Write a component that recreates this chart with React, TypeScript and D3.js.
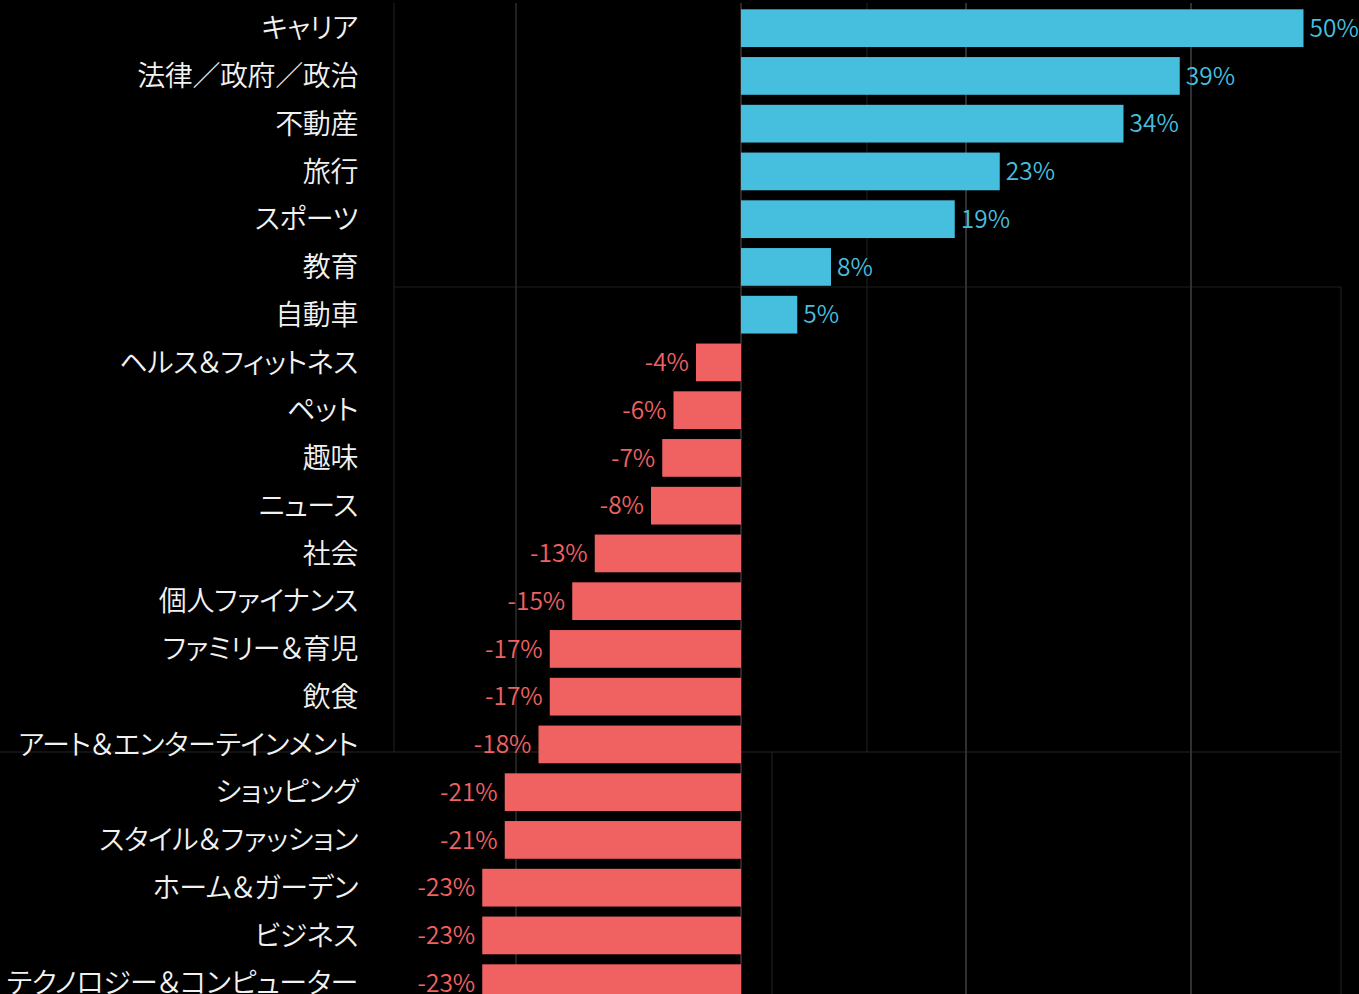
import React from 'react';
import * as d3 from 'd3';

const categories = [
  'キャリア',
  '法律／政府／政治',
  '不動産',
  '旅行',
  'スポーツ',
  '教育',
  '自動車',
  'ヘルス＆フィットネス',
  'ペット',
  '趣味',
  'ニュース',
  '社会',
  '個人ファイナンス',
  'ファミリー＆育児',
  '飲食',
  'アート＆エンターテインメント',
  'ショッピング',
  'スタイル＆ファッション',
  'ホーム＆ガーデン',
  'ビジネス',
  'テクノロジー＆コンピューター',
];

const changes = [50, 39, 34, 23, 19, 8, 5, -4, -6, -7, -8, -13, -15, -17, -17, -18, -21, -21, -23, -23, -23];

const gridTicks = [-20, 20, 40];

const WIDTH = 1359;
const HEIGHT = 994;
const BLUE = '#46bfdf';
const RED = '#f06262';
const FONT = "'Noto Sans CJK JP', 'Noto Sans', sans-serif";

export default function App() {
  const x = d3.scaleLinear().domain([-20, 40]).range([516, 1191]);

  const step = 47.75;
  const y = d3.scaleBand<string>()
    .domain(categories)
    .range([4.3, 4.3 + categories.length * step])
    .paddingInner(0.21)
    .paddingOuter(0.105);

  const x0 = x(0);
  const rows = categories.map((c, i) => ({ c, v: changes[i] }));

  return (
    <svg
      width={WIDTH}
      height={HEIGHT}
      style={{ position: 'absolute', left: 0, top: 0, background: '#000', display: 'block' }}
    >
      <rect width={WIDTH} height={HEIGHT} fill="#000" />

      {/* faint frame lines from the source layout */}
      <g stroke="#1e1e1e" strokeWidth={1.2}>
        <line x1={394} x2={394} y1={3} y2={752} />
        <line x1={867} x2={867} y1={3} y2={752} />
        <line x1={772} x2={772} y1={752} y2={HEIGHT} />
        <line x1={1341} x2={1341} y1={287} y2={HEIGHT} />
        <line x1={394} x2={1341} y1={287} y2={287} />
        <line x1={0} x2={1341} y1={752} y2={752} stroke="#262626" />
      </g>

      {gridTicks.map(t => (
        <line
          key={t}
          x1={x(t)}
          x2={x(t)}
          y1={3}
          y2={HEIGHT}
          stroke="#303030"
          strokeWidth={t === -20 ? 1.4 : 2}
        />
      ))}
      <line x1={x0} x2={x0} y1={3} y2={HEIGHT} stroke="#555" strokeWidth={1} />

      {rows.map(d => {
        const top = y(d.c) ?? 0;
        const h = y.bandwidth();
        const pos = d.v >= 0;
        const xe = x(d.v);
        return (
          <g key={d.c}>
            <rect
              x={Math.min(x0, xe)}
              y={top}
              width={Math.abs(xe - x0)}
              height={h}
              fill={pos ? BLUE : RED}
            />
            <text
              x={pos ? xe + 6 : xe - 7}
              y={top + h / 2}
              dy="0.36em"
              textAnchor={pos ? 'start' : 'end'}
              fill={pos ? BLUE : RED}
              fontSize={24.5}
              fontWeight={350}
              fontFamily={FONT}
            >
              {d.v}%
            </text>
            <text
              x={358}
              y={top + h / 2}
              dy="0.36em"
              textAnchor="end"
              fill="#f2f2f2"
              fontSize={28}
              fontWeight={350}
              letterSpacing={-0.4}
              fontFamily={FONT}
              style={{ fontFeatureSettings: "'palt'" }}
            >
              {d.c}
            </text>
          </g>
        );
      })}
    </svg>
  );
}
